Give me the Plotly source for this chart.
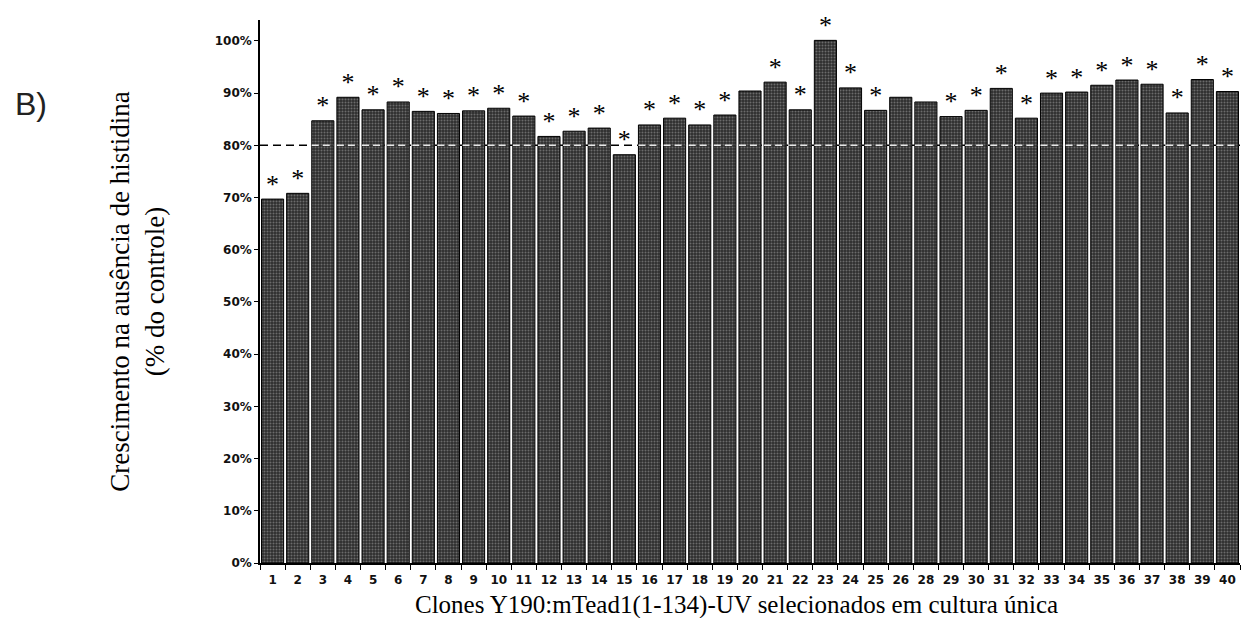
import plotly.graph_objects as go

# Clone labels (clone 27 is absent from the series)
clones = [str(i) for i in range(1, 27)] + [str(i) for i in range(28, 41)]

# Growth without histidine, % of control
growth = [69.7, 70.8, 84.7, 89.2, 86.8, 88.3, 86.5, 86.1, 86.6, 87.1,
          85.6, 81.7, 82.7, 83.3, 78.2, 83.9, 85.2, 83.9, 85.8, 90.4,
          92.1, 86.8, 100.1, 91.0, 86.7, 89.2, 88.3, 85.5, 86.7, 90.9,
          85.2, 90.0, 90.2, 91.5, 92.5, 91.7, 86.2, 92.6, 90.3]

# Significance marks per clone
significant = [True] * 19 + [False] + [True] * 5 + [False, False] + [True] * 12

threshold = 80
y_ticks = list(range(0, 101, 10))
y_ticklabels = [f"{v}%" for v in y_ticks]

serif = "Liberation Serif, Times New Roman, serif"
tickfont = dict(family="DejaVu Sans", size=12, color="#111", weight="bold")

fig = go.Figure()

fig.add_trace(go.Bar(
    x=clones, y=growth, width=0.88,
    marker=dict(
        color="#333333",
        line=dict(color="#000000", width=1),
        pattern=dict(shape=".", fgcolor="#a8a8a8", bgcolor="#2e2e2e",
                     size=3, solidity=0.35, fillmode="overlay"),
    ),
    hoverinfo="skip",
    showlegend=False,
))

# Light dashes of the threshold line where it crosses the bars
seg_x, seg_y = [], []
for i, v in enumerate(growth):
    if v > threshold:
        seg_x += [i - 0.44, i + 0.44, None]
        seg_y += [threshold, threshold, None]
fig.add_trace(go.Scatter(
    x=seg_x, y=seg_y, mode="lines", xaxis="x2",
    line=dict(color="#e6e6e6", width=1.5, dash="7px,4px"),
    hoverinfo="skip", showlegend=False,
))

# Asterisks over significant clones
star_x = [c for c, s in zip(clones, significant) if s]
star_y = [v for v, s in zip(growth, significant) if s]
fig.add_trace(go.Scatter(
    x=star_x, y=star_y, mode="text", text=["*"] * len(star_x),
    textposition="top center", cliponaxis=False,
    textfont=dict(family=serif, size=26, color="#000"),
    hoverinfo="skip", showlegend=False,
))

# Dark threshold line behind the bars
fig.add_shape(type="line", xref="paper", x0=0, x1=1, yref="y",
              y0=threshold, y1=threshold, layer="below",
              line=dict(color="#000000", width=1.5, dash="8px,5px"))

fig.add_annotation(xref="paper", yref="paper", x=-0.252, y=0.845,
                   xanchor="left", yanchor="middle", text="B)", showarrow=False,
                   font=dict(family="Liberation Sans, Arial, sans-serif",
                             size=32, color="#222"))

# X-axis caption
fig.add_annotation(xref="paper", yref="paper", x=0.486, y=-0.078,
                   xanchor="center", yanchor="middle", showarrow=False,
                   text="Clones Y190:mTead1(1-134)-UV selecionados em cultura única",
                   font=dict(family=serif, size=25, color="#000"))

fig.update_layout(
    width=1254, height=618,
    margin=dict(l=260, r=14, t=20, b=55),
    paper_bgcolor="white", plot_bgcolor="white",
    xaxis=dict(
        type="category", range=[-0.5, len(clones) - 0.5],
        automargin=False, tickangle=0,
        showline=True, linecolor="#000", linewidth=1.5,
        ticks="outside", tickson="boundaries", ticklen=5, tickcolor="#000",
        ticklabelstandoff=5,
        tickfont=tickfont,
        showgrid=False, zeroline=False,
    ),
    xaxis2=dict(overlaying="x", range=[-0.5, len(clones) - 0.5], visible=False),
    yaxis=dict(
        range=[0, 104], automargin=False,
        tickvals=y_ticks, ticktext=y_ticklabels,
        showline=True, linecolor="#000", linewidth=1.5,
        ticks="outside", ticklen=4, tickcolor="#000",
        tickfont=tickfont,
        title=dict(text="Crescimento na ausência de histidina<br>(% do controle)",
                   font=dict(family=serif, size=27, color="#000"), standoff=42),
        showgrid=False, zeroline=False,
    ),
)

fig.write_html("out.html")
